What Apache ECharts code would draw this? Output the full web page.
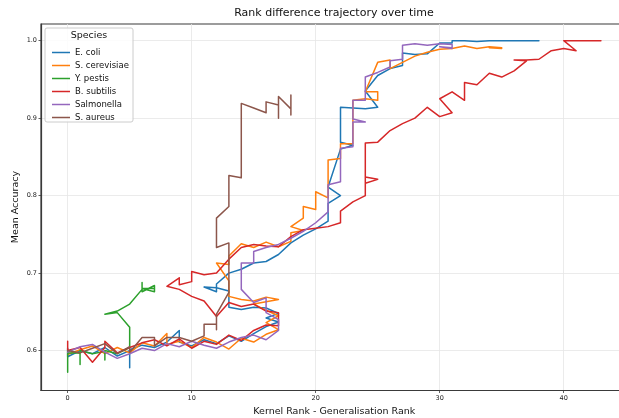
<!DOCTYPE html>
<html>
<head>
<meta charset="utf-8">
<script src="https://cdn.jsdelivr.net/npm/echarts@6/dist/echarts.min.js"></script>
<style>
  html, body { margin: 0; padding: 0; background: #fff; }
  #chart { width: 619px; height: 418px; }
</style>
</head>
<body>
<div id="chart"></div>
<script>
// Trajectories of (kernel rank - generalisation rank, mean accuracy) per species
const species = ['E. coli', 'S. cerevisiae', 'Y. pestis', 'B. subtilis', 'Salmonella', 'S. aureus'];
const colors = ['#1f77b4', '#ff7f0e', '#2ca02c', '#d62728', '#9467bd', '#8c564b'];

const ecoli = [[0,0.603],[0,0.592],[1,0.600],[2,0.596],[3,0.604],[4,0.593],[5,0.600],[5,0.578],[5,0.601],[6,0.607],[7,0.604],[8,0.611],[9,0.626],[9,0.611],[10,0.606],[11,0.614],[12,0.609],[13,0.619],[14,0.612],[15,0.622],[16,0.631],[17,0.637],[16,0.642],[17,0.648],[16,0.655],[15,0.656],[14,0.653],[13,0.656],[13,0.677],[12,0.681],[11,0.682],[12,0.676],[12,0.686],[13,0.700],[14,0.705],[15,0.713],[16,0.715],[17,0.724],[18,0.739],[19,0.749],[20,0.757],[21,0.767],[21,0.790],[22,0.800],[21,0.811],[22,0.860],[23,0.865],[22,0.869],[22,0.914],[23,0.913],[24,0.912],[25,0.914],[24,0.935],[25,0.955],[26,0.964],[27,0.968],[27,0.984],[28,0.982],[29,0.983],[30,0.997],[31,0.997],[31,1.0],[32,1.0],[33,0.999],[34,1.0],[35,1.0],[36,1.0],[37,1.0],[38,1.0]];

const cerevisiae = [[0,0.595],[1,0.601],[2,0.606],[3,0.596],[4,0.604],[5,0.597],[6,0.610],[7,0.606],[8,0.622],[8,0.608],[9,0.612],[10,0.604],[11,0.617],[12,0.611],[13,0.602],[14,0.616],[15,0.611],[16,0.621],[17,0.627],[16,0.636],[17,0.645],[16,0.652],[15,0.660],[16,0.663],[17,0.666],[16,0.669],[15,0.664],[14,0.666],[13,0.670],[13,0.690],[12,0.713],[13,0.711],[13,0.722],[14,0.738],[15,0.733],[16,0.740],[17,0.734],[18,0.741],[18,0.752],[19,0.755],[18,0.760],[19,0.771],[19,0.786],[20,0.782],[20,0.805],[21,0.797],[21,0.846],[22,0.848],[22,0.867],[23,0.867],[23,0.923],[24,0.925],[25,0.923],[25,0.934],[24,0.934],[25,0.972],[26,0.975],[26,0.964],[27,0.972],[28,0.980],[29,0.985],[30,0.989],[31,0.990],[32,0.993],[33,0.990],[34,0.992],[35,0.991],[34,0.991],[35,0.990]];

const pestis = [[0,0.600],[0,0.572],[0,0.597],[1,0.597],[1,0.582],[1,0.600],[2,0.596],[3,0.599],[3,0.588],[3,0.600],[4,0.596],[5,0.604],[5,0.630],[4,0.649],[3,0.647],[4,0.651],[5,0.660],[6,0.679],[6,0.688],[6,0.676],[7,0.684],[7,0.676],[6,0.680],[7,0.680]];

const subtilis = [[0,0.612],[0,0.600],[1,0.604],[2,0.585],[3,0.604],[3,0.612],[4,0.597],[5,0.604],[6,0.610],[7,0.614],[8,0.606],[9,0.615],[10,0.603],[11,0.612],[12,0.608],[13,0.620],[14,0.613],[15,0.626],[16,0.633],[17,0.632],[17,0.649],[16,0.651],[15,0.660],[14,0.657],[13,0.662],[12,0.644],[11,0.664],[10,0.670],[9,0.679],[8,0.683],[9,0.694],[9,0.685],[10,0.689],[10,0.702],[11,0.698],[12,0.700],[13,0.718],[14,0.733],[15,0.737],[16,0.735],[17,0.734],[18,0.747],[19,0.756],[20,0.758],[21,0.760],[22,0.765],[22,0.780],[23,0.792],[24,0.800],[24,0.824],[25,0.821],[24,0.816],[24,0.868],[25,0.869],[26,0.884],[27,0.893],[28,0.900],[29,0.914],[30,0.902],[31,0.907],[30,0.925],[31,0.934],[32,0.923],[32,0.946],[33,0.943],[34,0.958],[35,0.953],[36,0.961],[37,0.974],[36,0.975],[37,0.975],[38,0.976],[39,0.987],[40,0.990],[41,0.987],[40,1.0],[41,1.0],[42,1.0],[43,1.0]];

const salmonella = [[0,0.598],[1,0.605],[2,0.608],[3,0.598],[4,0.590],[5,0.596],[6,0.603],[7,0.600],[8,0.609],[9,0.605],[10,0.612],[11,0.607],[12,0.603],[13,0.611],[14,0.617],[15,0.620],[16,0.614],[17,0.626],[17,0.640],[16,0.649],[16,0.668],[15,0.662],[14,0.679],[14,0.713],[15,0.713],[15,0.728],[16,0.733],[17,0.737],[18,0.745],[19,0.754],[20,0.765],[21,0.779],[21,0.814],[22,0.818],[22,0.861],[23,0.863],[23,0.895],[24,0.895],[23,0.899],[23,0.923],[24,0.923],[24,0.953],[25,0.959],[26,0.966],[26,0.974],[27,0.976],[27,0.994],[28,0.996],[29,0.994],[30,0.996],[31,0.995],[31,0.991],[30,0.992],[31,0.990]];

const aureus = [[0,0.600],[1,0.597],[2,0.603],[3,0.609],[4,0.596],[5,0.605],[5,0.598],[6,0.617],[7,0.617],[7,0.606],[8,0.617],[9,0.617],[10,0.612],[11,0.619],[11,0.634],[12,0.634],[12,0.627],[12,0.647],[13,0.675],[13,0.739],[12,0.733],[12,0.771],[13,0.786],[13,0.826],[14,0.823],[14,0.919],[15,0.913],[16,0.907],[16,0.921],[17,0.917],[17,0.900],[17,0.928],[18,0.912],[18,0.930],[18,0.904]];

const xTicks = [0, 10, 20, 30, 40];
const yTicks = [0.6, 0.7, 0.8, 0.9, 1.0];

const tracks = [ecoli, cerevisiae, pestis, subtilis, salmonella, aureus];
const FONT = 'DejaVu Sans';

const chart = echarts.init(document.getElementById('chart'), null, { renderer: 'canvas' });

const series = tracks.map((d, i) => ({
  name: species[i],
  type: 'line',
  data: d,
  symbol: 'none',
  smooth: false,
  clip: true,
  lineStyle: { color: colors[i], width: 1.5, join: 'round', cap: 'round' },
  itemStyle: { color: colors[i] },
  emphasis: { disabled: true },
  z: 2 + i
}));

chart.setOption({
  animation: false,
  backgroundColor: '#ffffff',
  grid: {
    left: 41, top: 24, width: 586.6, height: 366.5,
    outerBoundsMode: 'none', containLabel: false,
    show: true, borderColor: '#3a3a3a', borderWidth: 1.2, backgroundColor: 'transparent'
  },
  xAxis: {
    type: 'value', min: -2.15, max: 45.15,
    name: 'Kernel Rank - Generalisation Rank',
    nameLocation: 'middle', nameGap: 16,
    nameTextStyle: { fontFamily: FONT, fontSize: 9.5, color: '#111' },
    axisLine: { show: true, onZero: false, lineStyle: { color: '#3a3a3a', width: 1.2 } },
    axisTick: { show: true, length: 2.5, customValues: xTicks, lineStyle: { color: '#3a3a3a', width: 0.8 } },
    axisLabel: { customValues: xTicks, fontFamily: FONT, fontSize: 6.5, color: '#222', margin: 4 },
    splitLine: { show: true, lineStyle: { color: '#e6e6e6', width: 0.8 } }
  },
  yAxis: {
    type: 'value', min: 0.5485, max: 1.0215,
    axisLine: { show: true, onZero: false, lineStyle: { color: '#3a3a3a', width: 1.2 } },
    axisTick: { show: true, length: 2.5, customValues: yTicks, lineStyle: { color: '#3a3a3a', width: 0.8 } },
    axisLabel: { customValues: yTicks, fontFamily: FONT, fontSize: 6.5, color: '#222', margin: 4,
      formatter: v => v.toFixed(1) },
    splitLine: { show: true, lineStyle: { color: '#e6e6e6', width: 0.8 } }
  },
  legend: {
    orient: 'vertical', left: 47, top: 43,
    icon: 'rect', itemWidth: 18, itemHeight: 1.5, itemGap: 4,
    selectedMode: false,
    data: species,
    textStyle: { fontFamily: FONT, fontSize: 8.5, color: '#111', lineHeight: 9, padding: [0, 0, 0, 0] },
    z: 20
  },
  graphic: [
    {
      type: 'text', z: 20, silent: true,
      x: 334, y: 8,
      style: { text: 'Rank difference trajectory over time', fontFamily: FONT, fontSize: 11, fill: '#111', align: 'center' }
    },
    {
      type: 'text', z: 20, silent: true,
      x: 16, y: 207, rotation: Math.PI / 2,
      style: { text: 'Mean Accuracy', fontFamily: FONT, fontSize: 9.5, fill: '#111', align: 'center', verticalAlign: 'middle' }
    },
    {
      type: 'rect', z: 15, silent: true,
      shape: { x: 45, y: 28, width: 88, height: 94, r: 2 },
      style: { fill: 'rgba(255,255,255,0.85)', stroke: '#cccccc', lineWidth: 1 }
    },
    {
      type: 'text', z: 20, silent: true,
      x: 89, y: 31,
      style: { text: 'Species', fontFamily: FONT, fontSize: 9.5, fill: '#111', align: 'center' }
    }
  ],
  series: series
});
</script>
</body>
</html>
